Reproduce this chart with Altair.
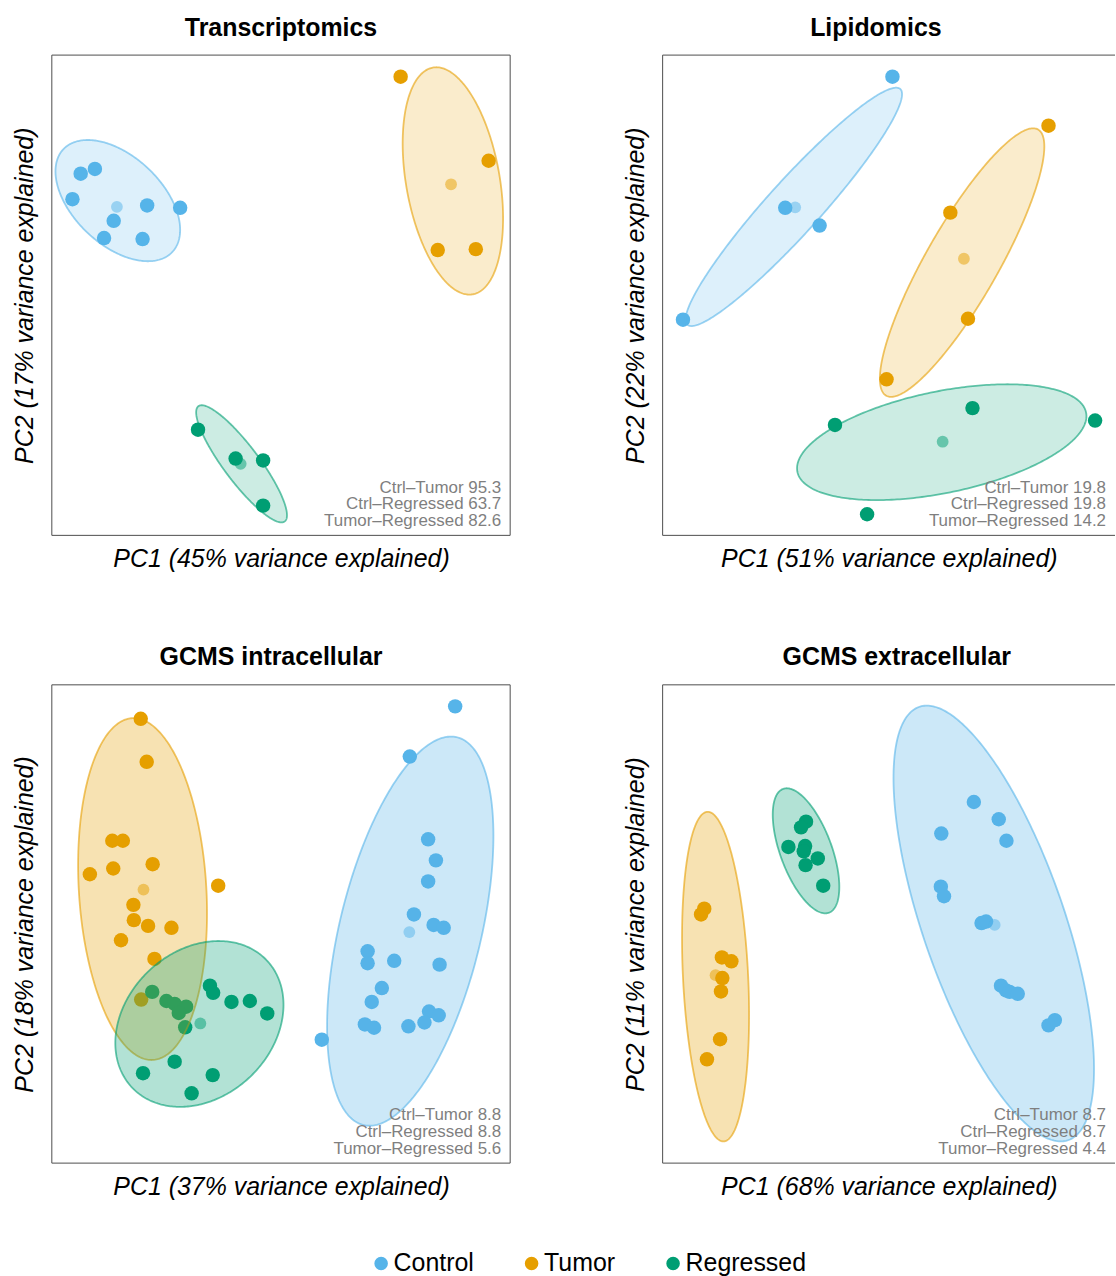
import math
import altair as alt
import pandas as pd

FONT = "Liberation Sans, Arial, Helvetica, sans-serif"

GROUPS = ["Control", "Tumor", "Regressed"]
GROUP_COLORS = ["#56B4E9", "#E69F00", "#009E73"]

PANEL_TITLES = ["Transcriptomics", "Lipidomics", "GCMS intracellular", "GCMS extracellular"]
PC1_VARIANCE = [45, 51, 37, 68]
PC2_VARIANCE = [17, 22, 18, 11]
DISTANCE_LABELS = [
    ["Ctrl\u2013Tumor 95.3", "Ctrl\u2013Regressed 63.7", "Tumor\u2013Regressed 82.6"],
    ["Ctrl\u2013Tumor 19.8", "Ctrl\u2013Regressed 19.8", "Tumor\u2013Regressed 14.2"],
    ["Ctrl\u2013Tumor 8.8", "Ctrl\u2013Regressed 8.8", "Tumor\u2013Regressed 5.6"],
    ["Ctrl\u2013Tumor 8.7", "Ctrl\u2013Regressed 8.7", "Tumor\u2013Regressed 4.4"],
]

# ---- Transcriptomics (scores rescaled to the 0-100 plotting window) ----
TRANS_CONTROL_PC1 = [6.3, 9.4, 4.5, 20.8, 28.0, 13.5, 11.4, 19.8]
TRANS_CONTROL_PC2 = [75.3, 76.3, 70.0, 68.7, 68.2, 65.5, 61.9, 61.7]
TRANS_TUMOR_PC1 = [76.1, 95.3, 84.2, 92.5]
TRANS_TUMOR_PC2 = [95.5, 78.0, 59.4, 59.6]
TRANS_REGRESSED_PC1 = [31.9, 40.1, 46.1, 46.1]
TRANS_REGRESSED_PC2 = [22.0, 16.0, 15.6, 6.2]
TRANS_CENTROID_PC1 = [14.2, 87.1, 41.2]
TRANS_CENTROID_PC2 = [68.4, 73.1, 14.9]
# ellipse: center PC1, center PC2, semi-major, semi-minor, angle (deg)
TRANS_ELLIPSES = [[14.4, 69.7, 16.0, 9.4, -40.6],
                  [87.5, 73.8, 24.0, 10.2, -79.4],
                  [41.4, 14.9, 15.25, 3.8, -51.7]]

# ---- Lipidomics ----
LIPID_CONTROL_PC1 = [50.8, 27.1, 34.7, 4.5]
LIPID_CONTROL_PC2 = [95.5, 68.2, 64.5, 44.9]
LIPID_TUMOR_PC1 = [85.3, 63.6, 67.5, 49.5]
LIPID_TUMOR_PC2 = [85.3, 67.2, 45.1, 32.5]
LIPID_REGRESSED_PC1 = [38.1, 68.5, 95.6, 45.2]
LIPID_REGRESSED_PC2 = [23.0, 26.5, 23.9, 4.4]
LIPID_CENTROID_PC1 = [29.3, 66.6, 61.9]
LIPID_CENTROID_PC2 = [68.3, 57.6, 19.5]
LIPID_ELLIPSES = [[29.0, 68.4, 34.0, 5.7, 46.1],
                  [66.2, 56.8, 32.4, 7.9, 58.6],
                  [61.7, 19.4, 32.5, 10.6, 10.8]]

# ---- GCMS intracellular ----
INTRA_CONTROL_PC1 = [88.0, 78.1, 82.1, 83.8, 82.1, 79.0, 83.3, 85.5, 68.9, 68.9, 74.7,
                     84.6, 72.0, 69.8, 82.3, 84.4, 81.3, 68.3, 70.3, 77.8, 58.9]
INTRA_CONTROL_PC2 = [95.5, 85.0, 67.7, 63.3, 58.9, 52.0, 49.8, 49.2, 44.3, 41.8, 42.3,
                     41.5, 36.6, 33.7, 31.7, 30.9, 29.4, 29.0, 28.3, 28.6, 25.8]
INTRA_TUMOR_PC1 = [19.4, 20.7, 13.2, 15.5, 8.3, 13.4, 22.0, 36.3, 17.8, 17.9, 21.0,
                   26.1, 15.1, 22.4, 19.5]
INTRA_TUMOR_PC2 = [92.9, 83.9, 67.4, 67.4, 60.4, 61.6, 62.5, 58.0, 54.0, 50.8, 49.6,
                   49.2, 46.6, 42.7, 34.2]
INTRA_REGRESSED_PC1 = [21.9, 25.0, 26.8, 29.3, 27.7, 29.1, 34.5, 35.2, 39.2, 43.2, 47.0,
                       26.8, 19.9, 35.1, 30.5]
INTRA_REGRESSED_PC2 = [35.8, 33.9, 33.3, 32.7, 31.4, 28.4, 37.1, 35.6, 33.7, 33.9, 31.3,
                       21.2, 18.8, 18.4, 14.6]
INTRA_CENTROID_PC1 = [78.0, 20.0, 32.4]
INTRA_CENTROID_PC2 = [48.3, 57.2, 29.2]
INTRA_ELLIPSES = [[78.2, 48.5, 41.8, 15.4, 75.7],
                  [19.8, 57.3, 35.8, 13.9, -86.3],
                  [32.2, 29.1, 19.85, 15.6, 38.1]]

# ---- GCMS extracellular ----
EXTRA_CONTROL_PC1 = [68.8, 74.3, 61.6, 76.0, 61.5, 62.2, 70.5, 71.5, 74.8, 75.9, 76.7,
                     78.5, 86.7, 85.3]
EXTRA_CONTROL_PC2 = [75.5, 71.9, 68.9, 67.4, 57.8, 55.8, 50.2, 50.5, 37.1, 36.1, 35.8,
                     35.4, 29.9, 28.8]
EXTRA_TUMOR_PC1 = [9.2, 8.5, 13.1, 15.2, 13.2, 12.9, 12.7, 9.8]
EXTRA_TUMOR_PC2 = [53.2, 52.0, 43.0, 42.2, 38.7, 35.9, 25.9, 21.7]
EXTRA_REGRESSED_PC1 = [31.7, 30.6, 27.8, 31.5, 31.2, 34.3, 31.6, 35.5]
EXTRA_REGRESSED_PC2 = [71.4, 70.2, 66.1, 66.3, 65.2, 63.7, 62.3, 58.0]
EXTRA_CENTROID_PC1 = [73.4, 11.7, 31.3]
EXTRA_CENTROID_PC2 = [49.8, 39.3, 65.5]
EXTRA_ELLIPSES = [[73.2, 50.1, 48.2, 15.6, -69.8],
                  [11.7, 39.0, 34.5, 7.2, -87.0],
                  [31.7, 65.3, 13.9, 5.65, -68.2]]

PANEL_DATA = [
    (TRANS_CONTROL_PC1, TRANS_CONTROL_PC2, TRANS_TUMOR_PC1, TRANS_TUMOR_PC2,
     TRANS_REGRESSED_PC1, TRANS_REGRESSED_PC2, TRANS_CENTROID_PC1, TRANS_CENTROID_PC2,
     TRANS_ELLIPSES),
    (LIPID_CONTROL_PC1, LIPID_CONTROL_PC2, LIPID_TUMOR_PC1, LIPID_TUMOR_PC2,
     LIPID_REGRESSED_PC1, LIPID_REGRESSED_PC2, LIPID_CENTROID_PC1, LIPID_CENTROID_PC2,
     LIPID_ELLIPSES),
    (INTRA_CONTROL_PC1, INTRA_CONTROL_PC2, INTRA_TUMOR_PC1, INTRA_TUMOR_PC2,
     INTRA_REGRESSED_PC1, INTRA_REGRESSED_PC2, INTRA_CENTROID_PC1, INTRA_CENTROID_PC2,
     INTRA_ELLIPSES),
    (EXTRA_CONTROL_PC1, EXTRA_CONTROL_PC2, EXTRA_TUMOR_PC1, EXTRA_TUMOR_PC2,
     EXTRA_REGRESSED_PC1, EXTRA_REGRESSED_PC2, EXTRA_CENTROID_PC1, EXTRA_CENTROID_PC2,
     EXTRA_ELLIPSES),
]

FILL_OPACITY = [0.2, 0.2, 0.3, 0.3]
TITLE_DX = [0, -13, -10, 8]
WIDTHS = [460, 454, 460, 454]
HEIGHTS = [482, 482, 480, 480]
FRAME = "#4d4d4d"


def ellipse_outline(group, cx, cy, a, b, ang_deg, n=160):
    th = math.radians(ang_deg)
    c, s = math.cos(th), math.sin(th)
    A = s * s / (a * a) + c * c / (b * b)
    Bc = 2 * s * c * (1 / (a * a) - 1 / (b * b))
    Cc = c * c / (a * a) + s * s / (b * b)
    half_w = math.sqrt(a * a * c * c + b * b * s * s)
    rows = []
    for k in range(n + 1):
        u = -half_w * math.cos(math.pi * k / n)
        B = Bc * u
        C = Cc * u * u - 1
        r = math.sqrt(max(B * B - 4 * A * C, 0.0))
        rows.append({"group": group, "x": cx + u,
                     "lo": cy + (-B - r) / (2 * A), "hi": cy + (-B + r) / (2 * A)})
    return rows


color_scale = alt.Scale(domain=GROUPS, range=GROUP_COLORS)

legend = alt.Legend(
    orient="none", legendX=318, legendY=1200, direction="horizontal", title=None,
    symbolType="circle", symbolSize=185, symbolStrokeWidth=0, labelFontSize=25,
    labelFont=FONT, labelColor="black", labelOffset=0, columnPadding=45, padding=0,
)


def make_panel(i):
    (cx1, cy1, tx1, ty1, rx1, ry1, mx, my, ells) = PANEL_DATA[i]
    W = WIDTHS[i]
    H = HEIGHTS[i]
    pts = pd.DataFrame({
        "x": cx1 + tx1 + rx1,
        "y": cy1 + ty1 + ry1,
        "group": ["Control"] * len(cx1) + ["Tumor"] * len(tx1) + ["Regressed"] * len(rx1),
    })
    cen = pd.DataFrame({"x": mx, "y": my, "group": GROUPS})
    ell_rows = []
    for g, e in zip(GROUPS, ells):
        ell_rows += ellipse_outline(g, *e)
    ell = pd.DataFrame(ell_rows)

    xs = alt.Scale(domain=[0, 100], nice=False, zero=False)
    ys = alt.Scale(domain=[0, 100], nice=False, zero=False)
    common = dict(labels=False, ticks=False, domain=False, grid=False, titleFontSize=25,
                  titleFontStyle="italic", titleFontWeight="normal", titleColor="black",
                  titleFont=FONT, minExtent=0)
    x_axis = alt.Axis(title=f"PC1 ({PC1_VARIANCE[i]}% variance explained)",
                      titlePadding=11, **common)
    y_axis = alt.Axis(title=f"PC2 ({PC2_VARIANCE[i]}% variance explained)",
                      titlePadding=14, **common)

    points = alt.Chart(pts).mark_circle(size=210, opacity=1).encode(
        x=alt.X("x:Q", scale=xs, axis=x_axis),
        y=alt.Y("y:Q", scale=ys, axis=y_axis),
        color=alt.Color("group:N", scale=color_scale, legend=legend),
    )
    ellipses = alt.Chart(ell).mark_area(
        fillOpacity=FILL_OPACITY[i], strokeOpacity=0.6, strokeWidth=1.8
    ).encode(
        x=alt.X("x:Q", scale=xs, axis=x_axis),
        y=alt.Y("lo:Q", scale=ys, axis=y_axis),
        y2="hi:Q",
        fill=alt.Fill("group:N", scale=color_scale, legend=None),
        stroke=alt.Stroke("group:N", scale=color_scale, legend=None),
    )
    centroids = alt.Chart(cen).mark_circle(size=140, opacity=0.5).encode(
        x=alt.X("x:Q", scale=xs, axis=x_axis),
        y=alt.Y("y:Q", scale=ys, axis=y_axis),
        fill=alt.Fill("group:N", scale=color_scale, legend=None),
    )
    text = alt.Chart(pd.DataFrame({"label": ["\n".join(DISTANCE_LABELS[i])]})).mark_text(
        align="right", baseline="middle", fontSize=17, lineHeight=17, lineBreak="\n",
        color="#7f7f7f", font=FONT,
    ).encode(text="label:N", x=alt.value(W - 9), y=alt.value(H - 48))

    # panel frame (right side omitted on the right-hand panels, which run off the page)
    one = pd.DataFrame({"a": [0]})
    fr = dict(color=FRAME, strokeWidth=1)
    frame = [
        alt.Chart(one).mark_rule(**fr).encode(x=alt.value(0), y=alt.value(0), y2=alt.value(H)),
        alt.Chart(one).mark_rule(**fr).encode(x=alt.value(0), x2=alt.value(W), y=alt.value(0)),
        alt.Chart(one).mark_rule(**fr).encode(x=alt.value(0), x2=alt.value(W), y=alt.value(H)),
    ]
    if i in (0, 2):
        frame.append(alt.Chart(one).mark_rule(**fr).encode(
            x=alt.value(W), y=alt.value(0), y2=alt.value(H)))

    layers = [points, ellipses, centroids, text] + frame
    return alt.layer(*layers).properties(
        width=W, height=H, view=alt.ViewBackground(stroke="transparent"),
        title=alt.TitleParams(
            PANEL_TITLES[i], fontSize=25, fontWeight="bold", font=FONT, color="black",
            anchor="middle", frame="group", offset=-11, baseline="bottom", dx=TITLE_DX[i]),
    )


chart = alt.concat(
    *[make_panel(i) for i in range(4)], columns=2, spacing={"row": 73, "column": 112}
).resolve_scale(color="shared").properties(
    padding={"left": 12, "top": 13, "right": 0, "bottom": 0}, background="white"
).configure(font=FONT)

chart.save("out.html", embed_options={"renderer": "svg", "actions": False})
